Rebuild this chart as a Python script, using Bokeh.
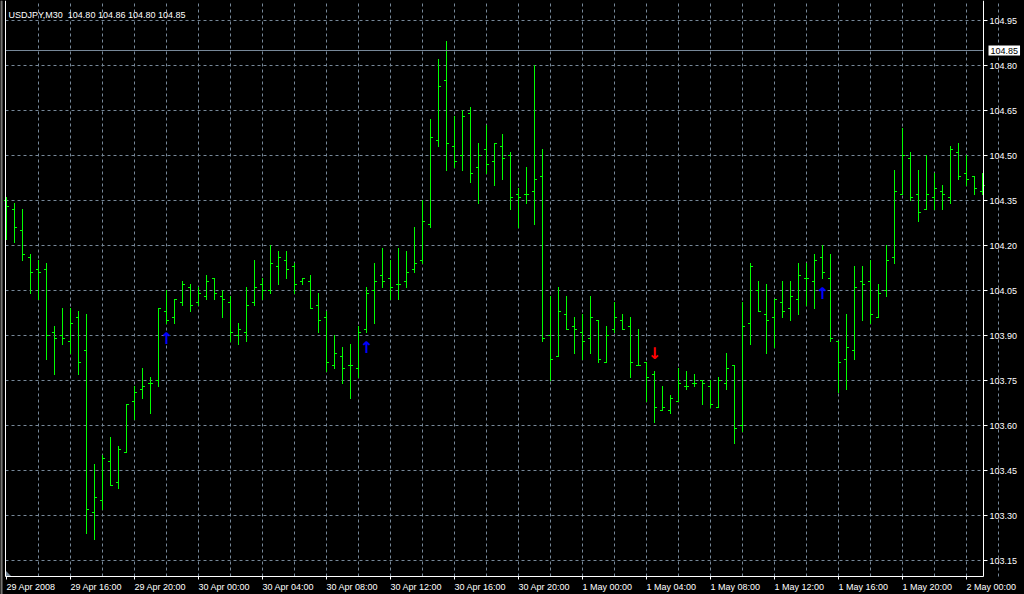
import pandas as pd
from bokeh.plotting import figure
from bokeh.models import (Range1d, FixedTicker, PrintfTickFormatter, Label, LinearAxis, Grid,
                          BoxAnnotation, ColumnDataSource, GlobalInlineStyleSheet)
from bokeh.core.properties import value
from bokeh.embed import file_html
from bokeh.resources import INLINE

# ---------------- data ----------------
chart_title = "USDJPY,M30\u00a0 104.80 104.86 104.80 104.85"
start_time = "2008-04-29 12:00"
bar_minutes = 30

open_ = [104.35, 104.32, 104.25, 104.16, 104.12, 104.12, 103.91, 103.90, 103.88, 103.96,
         103.85, 103.31, 103.35, 103.48, 103.41, 103.51, 103.68, 103.72, 103.74, 103.75,
         103.98, 103.96, 104.01, 104.06, 104.01, 104.03, 104.09, 104.03, 104.01, 103.90,
         103.91, 104.01, 104.07, 104.05, 104.13, 104.15, 104.13, 104.08, 104.08, 104.00,
         103.96, 103.80, 103.83, 103.80, 103.79, 103.92, 104.05, 104.10, 104.09, 104.07,
         104.08, 104.12, 104.15, 104.27, 104.55, 104.75, 104.53, 104.50, 104.64, 104.46,
         104.52, 104.48, 104.53, 104.50, 104.37, 104.37, 104.38, 104.43, 103.90, 103.83,
         103.97, 103.93, 103.91, 103.89, 103.95, 103.81, 103.92, 103.95, 103.93, 103.80,
         103.81, 103.77, 103.65, 103.65, 103.68, 103.73, 103.74, 103.75, 103.73, 103.66,
         103.74, 103.80, 103.60, 103.94, 104.05, 103.97, 103.96, 104.01, 103.99, 104.02,
         104.09, 104.08, 104.16, 104.09, 103.88, 103.82, 103.85, 104.08, 104.08, 103.96,
         104.05, 104.16, 104.37, 104.49, 104.37, 104.32, 104.36, 104.38, 104.36, 104.51,
         104.44, 104.43, 104.38]
high = [104.36, 104.34, 104.32, 104.17, 104.15, 104.14, 103.93, 103.99, 103.99, 103.98,
        103.97, 103.47, 103.50, 103.56, 103.53, 103.67, 103.73, 103.79, 103.76, 103.99,
        104.05, 104.02, 104.08, 104.07, 104.06, 104.10, 104.09, 104.05, 104.03, 103.94,
        104.06, 104.15, 104.09, 104.20, 104.18, 104.18, 104.14, 104.09, 104.10, 104.04,
        103.98, 103.90, 103.86, 103.87, 103.93, 104.06, 104.14, 104.19, 104.15, 104.19,
        104.18, 104.26, 104.35, 104.62, 104.82, 104.88, 104.63, 104.65, 104.66, 104.54,
        104.60, 104.54, 104.57, 104.51, 104.39, 104.46, 104.80, 104.52, 104.03, 104.06,
        104.03, 103.96, 103.97, 104.03, 103.95, 103.93, 104.01, 103.97, 103.96, 103.92,
        103.81, 103.78, 103.73, 103.70, 103.79, 103.78, 103.77, 103.75, 103.75, 103.76,
        103.84, 103.80, 104.01, 104.14, 104.08, 104.07, 104.02, 104.08, 104.08, 104.14,
        104.14, 104.17, 104.20, 104.17, 103.88, 103.97, 104.13, 104.13, 104.15, 104.07,
        104.20, 104.45, 104.59, 104.51, 104.45, 104.50, 104.44, 104.40, 104.53, 104.54,
        104.50, 104.43, 104.44]
low = [104.22, 104.21, 104.15, 104.04, 104.02, 103.82, 103.77, 103.87, 103.84, 103.77,
       103.24, 103.22, 103.32, 103.40, 103.39, 103.51, 103.62, 103.69, 103.64, 103.73,
       103.94, 103.94, 104.00, 103.98, 104.00, 104.02, 104.02, 103.96, 103.88, 103.87,
       103.88, 104.00, 104.02, 104.04, 104.07, 104.09, 104.04, 104.07, 103.99, 103.91,
       103.78, 103.79, 103.74, 103.69, 103.76, 103.91, 103.94, 104.06, 104.02, 104.02,
       104.06, 104.11, 104.14, 104.26, 104.53, 104.45, 104.46, 104.45, 104.41, 104.34,
       104.44, 104.40, 104.42, 104.32, 104.26, 104.34, 104.27, 103.88, 103.75, 103.83,
       103.92, 103.84, 103.82, 103.84, 103.81, 103.81, 103.91, 103.92, 103.76, 103.80,
       103.68, 103.61, 103.65, 103.64, 103.68, 103.72, 103.73, 103.67, 103.66, 103.66,
       103.72, 103.54, 103.58, 103.87, 103.98, 103.84, 103.86, 103.96, 103.95, 103.97,
       104.00, 103.99, 104.09, 103.88, 103.71, 103.72, 103.82, 103.95, 103.94, 103.96,
       104.03, 104.14, 104.37, 104.35, 104.28, 104.32, 104.32, 104.32, 104.34, 104.42,
       104.40, 104.37, 104.37]
close = [104.33, 104.26, 104.17, 104.11, 104.11, 103.90, 103.89, 103.89, 103.94, 103.81,
         103.32, 103.36, 103.49, 103.40, 103.52, 103.67, 103.71, 103.73, 103.74, 103.99,
         103.95, 104.02, 104.07, 104.00, 104.04, 104.08, 104.04, 104.02, 103.91, 103.92,
         104.00, 104.06, 104.05, 104.14, 104.16, 104.12, 104.07, 104.09, 103.99, 103.95,
         103.81, 103.84, 103.79, 103.80, 103.91, 104.04, 104.08, 104.08, 104.06, 104.07,
         104.11, 104.14, 104.28, 104.56, 104.73, 104.54, 104.48, 104.63, 104.44, 104.50,
         104.47, 104.54, 104.49, 104.36, 104.36, 104.37, 104.42, 103.89, 103.82, 103.98,
         103.92, 103.92, 103.88, 103.96, 103.82, 103.90, 103.96, 103.92, 103.81, 103.80,
         103.76, 103.66, 103.66, 103.69, 103.74, 103.73, 103.74, 103.74, 103.67, 103.75,
         103.79, 103.59, 103.93, 104.13, 103.98, 103.95, 104.02, 103.98, 104.03, 104.10,
         104.09, 104.15, 104.11, 103.89, 103.81, 103.86, 104.06, 104.07, 103.97, 104.04,
         104.15, 104.38, 104.50, 104.36, 104.31, 104.37, 104.39, 104.37, 104.52, 104.43,
         104.42, 104.39, 104.40]

x_tick_labels = ["29 Apr 2008", "29 Apr 16:00", "29 Apr 20:00", "30 Apr 00:00",
                 "30 Apr 04:00", "30 Apr 08:00", "30 Apr 12:00", "30 Apr 16:00",
                 "30 Apr 20:00", "1 May 00:00", "1 May 04:00", "1 May 08:00",
                 "1 May 12:00", "1 May 16:00", "1 May 20:00", "2 May 00:00"]
y_ticks = [103.15, 103.30, 103.45, 103.60, 103.75, 103.90, 104.05, 104.20,
           104.35, 104.50, 104.65, 104.80, 104.95]
bid_price = 104.85

up_arrow_bars = [20, 45, 102]
up_arrow_prices = [103.89, 103.86, 104.04]
down_arrow_bars = [81]
down_arrow_prices = [103.84]

# ---------------- layout helpers ----------------
MS = 60_000
bar_ms = bar_minutes * MS
t0 = pd.Timestamp(start_time)
t0_ms = float((t0 - pd.Timestamp("1970-01-01")) // pd.Timedelta("1ms"))
times = [t0_ms + i * bar_ms for i in range(len(close))]

W, H = 1024, 594
PX_PER_BAR = 8.0
PX_PER_UNIT = 300.0
PX_MS = bar_ms / PX_PER_BAR           # milliseconds per pixel
PX_PR = 1.0 / PX_PER_UNIT             # price units per pixel

# first bar sits on pixel column 5, top tick on pixel row 19
x_start = t0_ms - 6.0 * PX_MS
x_end = x_start + W * PX_MS
y_top = y_ticks[-1] + 20.0 * PX_PR
y_bottom = y_top - H * PX_PR

LEFT = t0_ms - 1 * PX_MS             # column 4
RIGHT = t0_ms + 977 * PX_MS          # column 982
BOTTOM = y_ticks[-1] - 556 * PX_PR   # row 575
TOP = y_top
tick_half = 2.5 * PX_MS

GREEN = "#00ff00"
GRID = "#778899"
FONT = "Liberation Sans"
FS = "9px"

p = figure(frame_width=W, frame_height=H, title=None, x_axis_type=None, y_axis_type=None,
           x_range=Range1d(x_start, x_end), y_range=Range1d(y_bottom, y_top),
           output_backend="svg", toolbar_location=None, min_border=0,
           background_fill_color="black", border_fill_color="black",
           outline_line_color=None)
p.stylesheets = [GlobalInlineStyleSheet(
    css="html, body {margin:0 !important; padding:0; background:#000; overflow:hidden;}")]

# window chrome on the far left
p.add_layout(BoxAnnotation(left=0, right=1, left_units="screen", right_units="screen",
                           fill_color="#d4d0c8", fill_alpha=1, line_color=None))
p.add_layout(BoxAnnotation(left=1, right=2, left_units="screen", right_units="screen",
                           fill_color="#808080", fill_alpha=1, line_color=None))

# grids
gx = Grid(dimension=0, ticker=FixedTicker(ticks=[t0_ms + k * 4 * bar_ms for k in range(1, 32)]))
gy = Grid(dimension=1, ticker=FixedTicker(ticks=y_ticks))
for g, cb in ((gx, (BOTTOM, TOP)), (gy, (LEFT, RIGHT))):
    g.grid_line_color = GRID
    g.grid_line_dash = "3 3"
    g.grid_line_width = 1
    if "cross_bounds" in g.properties():
        g.cross_bounds = cb
    p.add_layout(g)

# chart-shift marker in the lower-left corner
p.patch(x=[LEFT + 0.5 * PX_MS, LEFT + 0.5 * PX_MS, LEFT + 5.5 * PX_MS],
        y=[BOTTOM + 5.5 * PX_PR, BOTTOM + 0.5 * PX_PR, BOTTOM + 0.5 * PX_PR],
        fill_color=GRID, line_color=None)

# OHLC bars
src = ColumnDataSource(dict(
    t=times,
    t_left=[t - tick_half for t in times],
    t_right=[t + tick_half for t in times],
    o=open_, h=high, l=low, c=close))

p.segment(x0="t", y0="l", x1="t", y1="h", source=src, line_color=GREEN,
          line_width=1, line_cap="square")
p.segment(x0="t_left", y0="o", x1="t", y1="o", source=src, line_color=GREEN, line_width=1)
p.segment(x0="t", y0="c", x1="t_right", y1="c", source=src, line_color=GREEN, line_width=1)

# bid line and its price box
p.segment(x0=[LEFT], x1=[RIGHT], y0=[bid_price], y1=[bid_price], line_color=GRID, line_width=1)
p.add_layout(Label(x=988, x_units="screen", y=bid_price, y_units="data",
                   text=f"{bid_price:.2f}", text_color="black", text_font=FONT,
                   text_font_size=FS, text_baseline="middle", text_align="left",
                   background_fill_color="white", padding=2))

# title text
p.add_layout(Label(x=8, y=H - 14, x_units="screen", y_units="screen",
                   text=chart_title, text_color="white", text_font=FONT,
                   text_font_size=FS, text_baseline="alphabetic"))

# axes (fixed in place, drawn over the black frame)
label_times = [t0_ms + k * 8 * bar_ms for k in range(len(x_tick_labels))]
xa = LinearAxis(ticker=FixedTicker(ticks=label_times), fixed_location=BOTTOM,
                bounds=(LEFT, RIGHT), axis_line_color="white",
                major_tick_line_color="white", major_tick_out=3, major_tick_in=0,
                minor_tick_line_color=None, major_label_text_color=None)
p.add_layout(xa, "below")

ARIAL = {" ": 278, ":": 278, "A": 667, "p": 556, "r": 333, "M": 833, "a": 556, "y": 500}
def text_px(s):
    return sum(ARIAL.get(ch, 556) for ch in s) * 9 / 1000.0

label_pos = [t + text_px(s) / 2 * PX_MS for t, s in zip(label_times, x_tick_labels)]
xl = LinearAxis(ticker=FixedTicker(ticks=label_pos), fixed_location=BOTTOM,
                axis_line_color=None, major_tick_line_color=None, major_tick_out=3,
                major_tick_in=0, minor_tick_line_color=None, major_label_standoff=2,
                major_label_overrides={t: s for t, s in zip(label_pos, x_tick_labels)},
                major_label_text_color="white", major_label_text_font=FONT,
                major_label_text_font_size=FS)
p.add_layout(xl, "below")

ya = LinearAxis(ticker=FixedTicker(ticks=y_ticks), formatter=PrintfTickFormatter(format="%.2f"),
                fixed_location=RIGHT, bounds=(BOTTOM, TOP), axis_line_color="white",
                major_tick_line_color="white", major_tick_out=4, major_tick_in=0,
                minor_tick_line_color=None, major_label_standoff=2,
                major_label_text_color="white", major_label_text_font=FONT,
                major_label_text_font_size=FS)
p.add_layout(ya, "right")

yl = LinearAxis(ticker=FixedTicker(ticks=[]), fixed_location=LEFT, bounds=(BOTTOM, TOP),
                axis_line_color="white", major_tick_line_color=None,
                minor_tick_line_color=None, major_label_text_color=None)
p.add_layout(yl, "left")

# signal arrows
p.text(x=[times[i] for i in up_arrow_bars], y=up_arrow_prices,
       text=["\u2191"] * len(up_arrow_bars), text_color="#0000ff",
       text_font=value("DejaVu Sans"), text_font_style="bold", text_font_size="16px",
       text_align="center", text_baseline="middle")
p.text(x=[times[i] for i in down_arrow_bars], y=down_arrow_prices,
       text=["\u2193"] * len(down_arrow_bars), text_color="#ff0000",
       text_font=value("DejaVu Sans"), text_font_style="bold", text_font_size="16px",
       text_align="center", text_baseline="middle")

open("out.html", "w").write(file_html(p, INLINE))
